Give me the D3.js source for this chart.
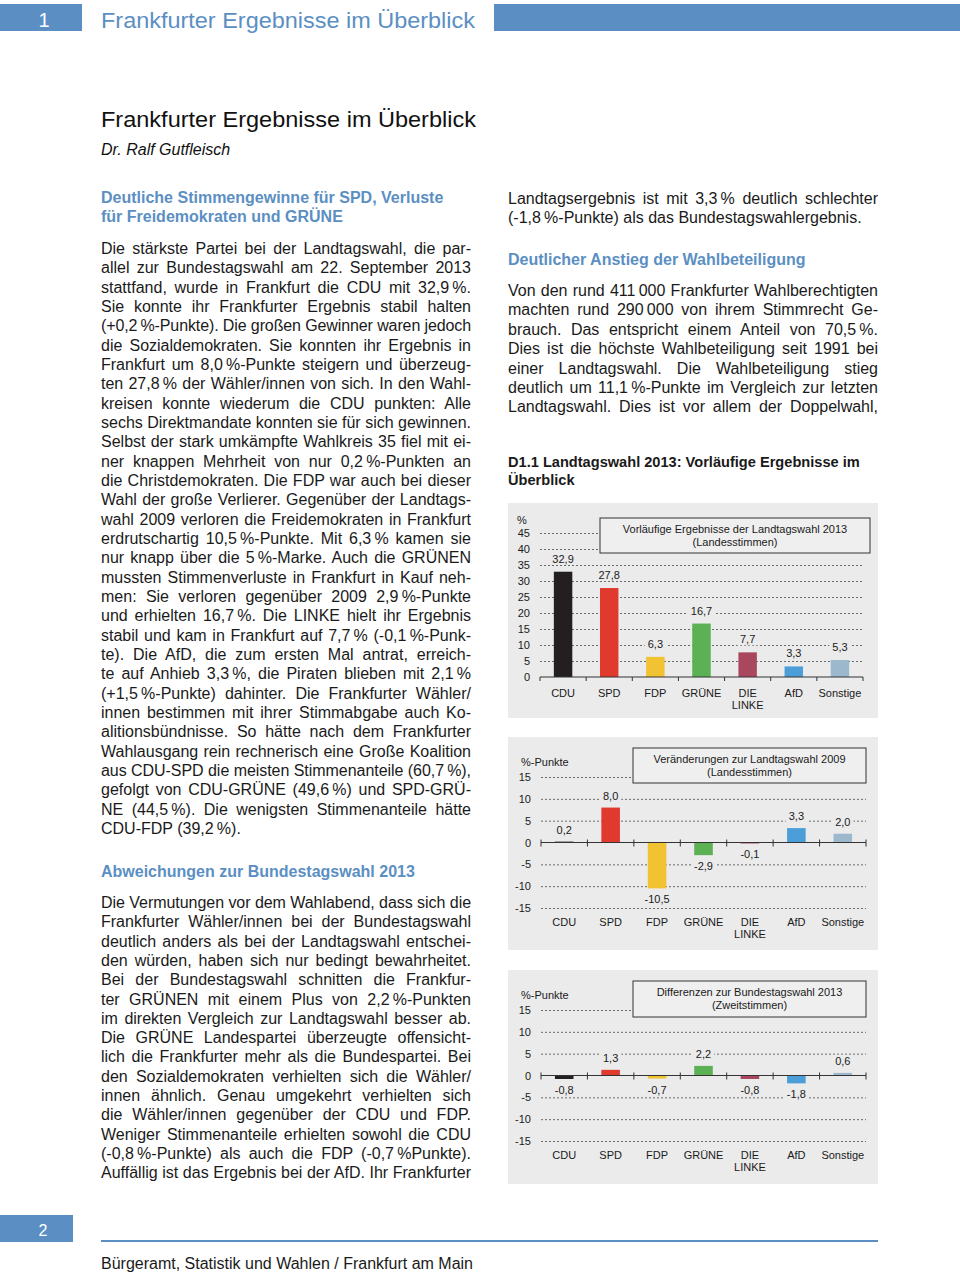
<!DOCTYPE html>
<html>
<head>
<meta charset="utf-8">
<script src="https://cdn.jsdelivr.net/npm/d3@7"></script>
<style>
  body { margin: 0; background: #fff; }
  #page { position: relative; width: 960px; height: 1273px; overflow: hidden; font-family: "Liberation Sans", Arial, sans-serif; color: #1a1a1a; }
  #page svg { position: absolute; left: 0; top: 0; }
  .line { position: absolute; width: 370px; font-size: 16px; line-height: 19px; height: 19px; white-space: nowrap; text-align: justify; text-align-last: justify; }
  .line.last { text-align-last: left; }
  .head { color: #5b8fc3; font-weight: bold; }
  .chead { font-weight: bold; font-size: 14.6px; }
</style>
</head>
<body>
<div id="page"></div>
<script>
// --- Daten ---
var parties = ["CDU", "SPD", "FDP", "GRÜNE", "DIE LINKE", "AfD", "Sonstige"];
var ergebnis2013 = [32.9, 27.8, 6.3, 16.7, 7.7, 3.3, 5.3];
var veraenderung2009 = [0.2, 8.0, -10.5, -2.9, -0.1, 3.3, 2.0];
var differenzBtw2013 = [-0.8, 1.3, -0.7, 2.2, -0.8, -1.8, 0.6];
var ticksProzent = [0, 5, 10, 15, 20, 25, 30, 35, 40, 45];
var ticksPunkte = [-15, -10, -5, 0, 5, 10, 15];

var partyColors = ["#231f20", "#e03a2f", "#f1c232", "#5bb154", "#a9475f", "#4b9ed8", "#9bb8cc"];
var blau = "#5b8fc3";
var panelGrau = "#ebebeb";

// --- Texte ---
var col1a = [
  "Die stärkste Partei bei der Landtagswahl, die par-",
  "allel zur Bundestagswahl am 22. September 2013",
  "stattfand, wurde in Frankfurt die CDU mit 32,9\u202F%.",
  "Sie konnte ihr Frankfurter Ergebnis stabil halten",
  "(+0,2\u202F%-Punkte). Die großen Gewinner waren jedoch",
  "die Sozialdemokraten. Sie konnten ihr Ergebnis in",
  "Frankfurt um 8,0\u202F%-Punkte steigern und überzeug-",
  "ten 27,8\u202F% der Wähler/innen von sich. In den Wahl-",
  "kreisen konnte wiederum die CDU punkten: Alle",
  "sechs Direktmandate konnten sie für sich gewinnen.",
  "Selbst der stark umkämpfte Wahlkreis 35 fiel mit ei-",
  "ner knappen Mehrheit von nur 0,2\u202F%-Punkten an",
  "die Christdemokraten. Die FDP war auch bei dieser",
  "Wahl der große Verlierer. Gegenüber der Landtags-",
  "wahl 2009 verloren die Freidemokraten in Frankfurt",
  "erdrutschartig 10,5\u202F%-Punkte. Mit 6,3\u202F% kamen sie",
  "nur knapp über die 5\u202F%-Marke. Auch die GRÜNEN",
  "mussten Stimmenverluste in Frankfurt in Kauf neh-",
  "men: Sie verloren gegenüber 2009 2,9\u202F%-Punkte",
  "und erhielten 16,7\u202F%. Die LINKE hielt ihr Ergebnis",
  "stabil und kam in Frankfurt auf 7,7\u202F% (-0,1\u202F%-Punk-",
  "te). Die AfD, die zum ersten Mal antrat, erreich-",
  "te auf Anhieb 3,3\u202F%, die Piraten blieben mit 2,1\u202F%",
  "(+1,5\u202F%-Punkte) dahinter. Die Frankfurter Wähler/",
  "innen bestimmen mit ihrer Stimmabgabe auch Ko-",
  "alitionsbündnisse. So hätte nach dem Frankfurter",
  "Wahlausgang rein rechnerisch eine Große Koalition",
  "aus CDU-SPD die meisten Stimmenanteile (60,7\u202F%),",
  "gefolgt von CDU-GRÜNE (49,6\u202F%) und SPD-GRÜ-",
  "NE (44,5\u202F%). Die wenigsten Stimmenanteile hätte",
  "CDU-FDP (39,2\u202F%)."
];
var col1b = [
  "Die Vermutungen vor dem Wahlabend, dass sich die",
  "Frankfurter Wähler/innen bei der Bundestagswahl",
  "deutlich anders als bei der Landtagswahl entschei-",
  "den würden, haben sich nur bedingt bewahrheitet.",
  "Bei der Bundestagswahl schnitten die Frankfur-",
  "ter GRÜNEN mit einem Plus von 2,2\u202F%-Punkten",
  "im direkten Vergleich zur Landtagswahl besser ab.",
  "Die GRÜNE Landespartei überzeugte offensicht-",
  "lich die Frankfurter mehr als die Bundespartei. Bei",
  "den Sozialdemokraten verhielten sich die Wähler/",
  "innen ähnlich. Genau umgekehrt verhielten sich",
  "die Wähler/innen gegenüber der CDU und FDP.",
  "Weniger Stimmenanteile erhielten sowohl die CDU",
  "(-0,8\u202F%-Punkte) als auch die FDP (-0,7\u202F%Punkte).",
  "Auffällig ist das Ergebnis bei der AfD. Ihr Frankfurter"
];
var col2a = [
  "Landtagsergebnis ist mit 3,3\u202F% deutlich schlechter",
  "(-1,8\u202F%-Punkte) als das Bundestagswahlergebnis."
];
var col2b = [
  "Von den rund 411\u202F000 Frankfurter Wahlberechtigten",
  "machten rund 290\u202F000 von ihrem Stimmrecht Ge-",
  "brauch. Das entspricht einem Anteil von 70,5\u202F%.",
  "Dies ist die höchste Wahlbeteiligung seit 1991 bei",
  "einer Landtagswahl. Die Wahlbeteiligung stieg",
  "deutlich um 11,1\u202F%-Punkte im Vergleich zur letzten",
  "Landtagswahl. Dies ist vor allem der Doppelwahl,"
];

var page = d3.select("#page");
var svg = page.append("svg").attr("width", 960).attr("height", 1273);

// Kopf- und Fußzeile
svg.append("rect").attr("x", 0).attr("y", 4).attr("width", 82).attr("height", 27).attr("fill", blau);
svg.append("rect").attr("x", 494).attr("y", 4).attr("width", 466).attr("height", 27).attr("fill", blau);
svg.append("text").attr("x", 44).attr("y", 27).attr("text-anchor", "middle").attr("fill", "#fff")
  .style("font-size", "20px").text("1");
svg.append("text").attr("x", 101).attr("y", 28).attr("fill", blau).style("font-size", "22px")
  .attr("textLength", 374).attr("lengthAdjust", "spacingAndGlyphs").text("Frankfurter Ergebnisse im Überblick");
svg.append("text").attr("x", 101).attr("y", 127).attr("fill", "#111").style("font-size", "22px")
  .attr("textLength", 375).attr("lengthAdjust", "spacingAndGlyphs").text("Frankfurter Ergebnisse im Überblick");
svg.append("text").attr("x", 101).attr("y", 155).attr("fill", "#111").style("font-size", "16px")
  .style("font-style", "italic").text("Dr. Ralf Gutfleisch");

svg.append("rect").attr("x", 0).attr("y", 1215).attr("width", 73).attr("height", 27).attr("fill", blau);
svg.append("text").attr("x", 43).attr("y", 1236).attr("text-anchor", "middle").attr("fill", "#fff")
  .style("font-size", "16px").text("2");
svg.append("line").attr("x1", 101).attr("x2", 878).attr("y1", 1241).attr("y2", 1241)
  .attr("stroke", blau).attr("stroke-width", 2);
svg.append("text").attr("x", 101).attr("y", 1269).attr("fill", "#1a1a1a").style("font-size", "16px")
  .text("Bürgeramt, Statistik und Wahlen / Frankfurt am Main");

// Fließtext
var ctx = document.createElement("canvas").getContext("2d");
function block(lines, x, top, step, cls, lastLeft) {
  page.selectAll(null).data(lines).enter().append("div")
    .attr("class", function(d, i) { return "line " + (cls || "") + ((lastLeft && i == lines.length - 1) ? " last" : ""); })
    .style("left", x + "px")
    .style("top", function(d, i) { return (top + i * step - 10) + "px"; })
    .text(function(d) { return d; })
    .each(function(d) {
      // zu lange Zeilen etwas enger setzen
      var cs = getComputedStyle(this);
      ctx.font = cs.fontWeight + " " + cs.fontSize + " " + cs.fontFamily;
      var w = ctx.measureText(d).width;
      if (w > 370) d3.select(this).style("letter-spacing", ((370 - w) / d.length) + "px");
    });
}
block(["Deutliche Stimmengewinne für SPD, Verluste", "für Freidemokraten und GRÜNE"], 101, 198, 19.3, "head last", false);
block(col1a, 101, 249, 19.33, "", true);
block(["Abweichungen zur Bundestagswahl 2013"], 101, 872, 19.3, "head last", false);
block(col1b, 101, 903, 19.3, "", false);
block(col2a, 508, 199, 19.3, "", true);
block(["Deutlicher Anstieg der Wahlbeteiligung"], 508, 260, 19.3, "head last", false);
block(col2b, 508, 291, 19.4, "", false);
block(["D1.1 Landtagswahl 2013: Vorläufige Ergebnisse im", "Überblick"], 508, 463, 17.5, "chead last", false);

// Diagramme
var de = d3.formatLocale({decimal: ",", thousands: ".", grouping: [3], currency: ["", "€"], minus: "-"});
var fmt1 = de.format(".1f");
var fmt0 = de.format("d");

function barChart(cfg) {
  var g = svg.append("g").style("font-size", "11px").style("font-family", "'Liberation Sans', Arial, sans-serif");
  g.append("rect").attr("x", 508).attr("y", cfg.top).attr("width", 370).attr("height", cfg.height).attr("fill", panelGrau);

  var x = d3.scaleBand().domain(parties).range([cfg.x0, cfg.x1]).paddingInner(0.6).paddingOuter(0.3);
  var y = d3.scaleLinear().domain(cfg.domain).range([cfg.yBottom, cfg.yTop]);

  var yAxis = g.append("g").attr("transform", "translate(" + cfg.x0 + ",0)")
    .call(d3.axisLeft(y).tickValues(cfg.ticks).tickSize(-(cfg.x1 - cfg.x0)).tickPadding(10).tickFormat(fmt0));
  yAxis.select(".domain").remove();
  yAxis.selectAll(".tick line").attr("stroke", "#6a6a6a").attr("stroke-dasharray", "2,2")
    .attr("opacity", function(d) { return d === 0 ? 0 : 1; });
  yAxis.selectAll(".tick text").attr("fill", "#1a1a1a").style("font-size", "11px");

  // Titelbox
  g.append("rect").attr("x", cfg.box[0]).attr("y", cfg.box[1]).attr("width", cfg.box[2]).attr("height", cfg.box[3])
    .attr("fill", "#efefef").attr("stroke", "#333").attr("stroke-width", 1);
  g.selectAll(null).data(cfg.title).enter().append("text")
    .attr("x", cfg.box[0] + cfg.box[2] / 2).attr("y", function(d, i) { return cfg.box[1] + 15 + i * 13; })
    .attr("text-anchor", "middle").attr("fill", "#1a1a1a").text(function(d) { return d; });

  g.selectAll(".bar").data(cfg.values).enter().append("rect")
    .attr("x", function(d, i) { return x(parties[i]); })
    .attr("y", function(d) { return y(Math.max(0, d)); })
    .attr("width", x.bandwidth())
    .attr("height", function(d) { return Math.max(1, Math.abs(y(d) - y(0))); })
    .attr("fill", function(d, i) { return partyColors[i]; });

  // Nulllinie mit Teilstrichen
  g.append("line").attr("x1", cfg.x0).attr("x2", cfg.x1).attr("y1", y(0)).attr("y2", y(0))
    .attr("stroke", "#333").attr("stroke-width", 1.2);
  g.selectAll(".sep").data(d3.range(parties.length + 1)).enter().append("line")
    .attr("x1", function(i) { return cfg.x0 + i * x.step(); })
    .attr("x2", function(i) { return cfg.x0 + i * x.step(); })
    .attr("y1", y(0) + cfg.tickUp).attr("y2", y(0) + 4)
    .attr("stroke", "#333").attr("stroke-width", 1);

  // Werte mit Hintergrund (unterbricht die Gitterlinien)
  var vals = g.selectAll(".val").data(cfg.values).enter().append("g");
  var vt = vals.append("text")
    .attr("x", function(d, i) { return x(parties[i]) + x.bandwidth() / 2; })
    .attr("y", function(d) { return d >= 0 ? y(d) - cfg.labelUp : y(d) + 15; })
    .attr("text-anchor", "middle").attr("fill", "#1a1a1a").text(function(d) { return fmt1(d); });
  vt.each(function() {
    var b = this.getBBox();
    d3.select(this.parentNode).insert("rect", "text")
      .attr("x", b.x - 3).attr("y", b.y).attr("width", b.width + 6).attr("height", b.height)
      .attr("fill", panelGrau);
  });

  var cat = g.selectAll(".cat").data(parties).enter().append("text")
    .attr("text-anchor", "middle").attr("fill", "#1a1a1a")
    .attr("x", function(d) { return x(d) + x.bandwidth() / 2; })
    .attr("y", cfg.catY);
  cat.selectAll("tspan").data(function(d) { return d.split(" "); }).enter().append("tspan")
    .attr("x", function() { var p = d3.select(this.parentNode).datum(); return x(p) + x.bandwidth() / 2; })
    .attr("dy", function(d, i) { return i ? 12 : 0; })
    .text(function(d) { return d; });

  g.append("text").attr("x", cfg.unit[1]).attr("y", cfg.unit[2]).attr("fill", "#1a1a1a").text(cfg.unit[0]);
}

barChart({
  top: 503, height: 215, x0: 540, x1: 863, yBottom: 677, yTop: 533, domain: [0, 45], ticks: ticksProzent,
  values: ergebnis2013, box: [600, 518, 270, 35], tickUp: 0, labelUp: 9, catY: 697,
  title: ["Vorläufige Ergebnisse der Landtagswahl 2013", "(Landesstimmen)"], unit: ["%", 517, 524]
});
barChart({
  top: 737, height: 213, x0: 541, x1: 866, yBottom: 908, yTop: 777, domain: [-15, 15], ticks: ticksPunkte,
  values: veraenderung2009, box: [633, 748, 233, 35], tickUp: -3, labelUp: 8, catY: 926,
  title: ["Veränderungen zur Landtagswahl 2009", "(Landesstimmen)"], unit: ["%-Punkte", 521, 766]
});
barChart({
  top: 970, height: 214, x0: 541, x1: 866, yBottom: 1141, yTop: 1010, domain: [-15, 15], ticks: ticksPunkte,
  values: differenzBtw2013, box: [633, 981, 233, 36], tickUp: -3, labelUp: 8, catY: 1159,
  title: ["Differenzen zur Bundestagswahl 2013", "(Zweitstimmen)"], unit: ["%-Punkte", 521, 999]
});
</script>
</body>
</html>
